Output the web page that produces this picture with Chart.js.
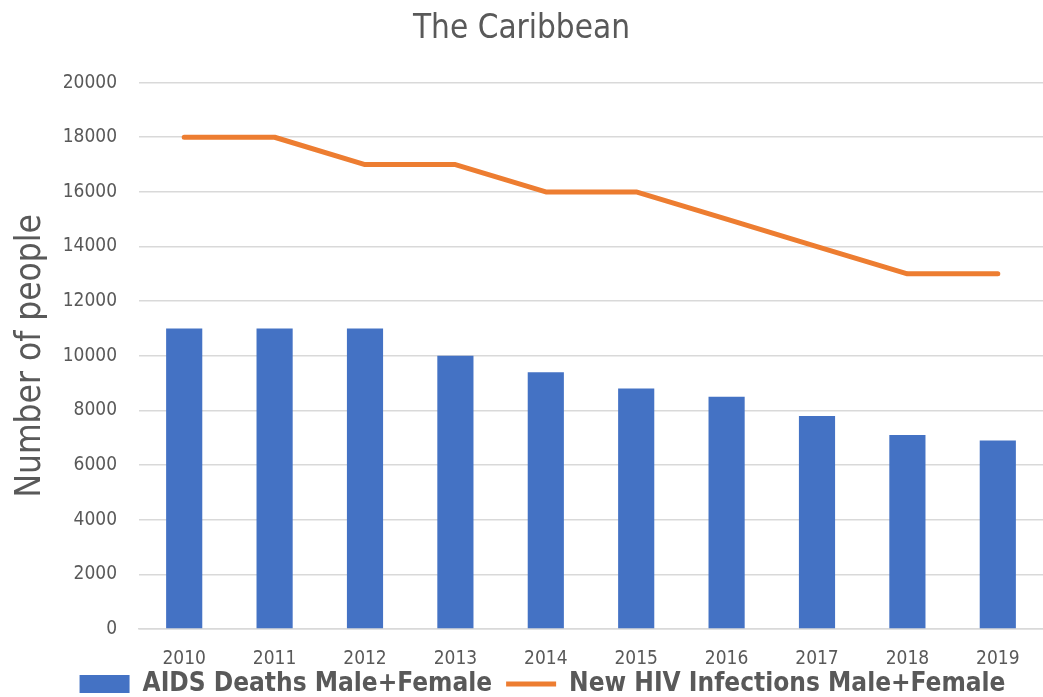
<!DOCTYPE html>
<html>
<head>
<meta charset="utf-8">
<title>The Caribbean</title>
<script src="https://cdn.jsdelivr.net/npm/chart.js@4.4.1/dist/chart.umd.min.js"></script>
<style>
  html, body { margin: 0; padding: 0; background: #fff; }
  #wrap { width: 1043px; height: 697px; position: relative; }
</style>
</head>
<body>
<div id="wrap"><canvas id="chart"></canvas></div>
<script>
// Data
const years = ['2010', '2011', '2012', '2013', '2014', '2015', '2016', '2017', '2018', '2019'];
const aidsDeaths = [11000, 11000, 11000, 10000, 9400, 8800, 8500, 7800, 7100, 6900];
const newInfections = [18000, 18000, 17000, 17000, 16000, 16000, 15000, 14000, 13000, 13000];
const yTicks = [0, 2000, 4000, 6000, 8000, 10000, 12000, 14000, 16000, 18000, 20000];

const FONT = '"DejaVu Sans Condensed", "Open Sans", sans-serif';
const GREY = '#595959';
const LEGEND_SHIFT = 21;

Chart.defaults.font.family = FONT;
Chart.defaults.color = GREY;

// the legend's padding is only wanted between the two items, not above/below them
const legendTrim = {
    id: 'legendTrim',
    afterInit(chart) {
        const lg = chart.legend;
        if (!lg) return;
        const fit = lg.fit;
        const draw = lg.draw;
        lg.fit = function () {
            fit.call(this);
            this.height -= this.options.labels.padding + 10;
        };
        lg.draw = function () {
            const p = this.options.labels.padding;
            this.top -= p;
            this.left += LEGEND_SHIFT;
            this.right += LEGEND_SHIFT;
            draw.call(this);
            this.top += p;
            this.left -= LEGEND_SHIFT;
            this.right -= LEGEND_SHIFT;
        };
    }
};

const ctx = document.getElementById('chart').getContext('2d');
new Chart(ctx, {
    type: 'bar',
    data: {
        labels: years,
        datasets: [{
            label: 'AIDS Deaths Male+Female',
            data: aidsDeaths,
            backgroundColor: '#4472c4',
            borderWidth: 0,
            barPercentage: 0.4,
            categoryPercentage: 1,
            pointStyle: 'rect'
        }, {
            type: 'line',
            label: 'New HIV Infections Male+Female',
            data: newInfections,
            borderColor: '#ed7d31',
            backgroundColor: '#ed7d31',
            borderWidth: 5,
            borderCapStyle: 'round',
            borderJoinStyle: 'round',
            pointRadius: 0,
            pointStyle: 'line',
            tension: 0
        }]
    },
    options: {
        responsive: true,
        maintainAspectRatio: false,
        animation: false,
        layout: { padding: 0 },
        plugins: {
            title: {
                display: true,
                text: 'The Caribbean',
                color: GREY,
                font: { size: 33, weight: 'normal' },
                padding: { top: 10, bottom: 33 }
            },
            legend: {
                position: 'bottom',
                labels: {
                    usePointStyle: true,
                    pointStyleWidth: 50,
                    boxHeight: 18,
                    padding: 14,
                    color: GREY,
                    font: { size: 26, weight: 'bold' }
                }
            },
            tooltip: { enabled: false }
        },
        scales: {
            x: {
                afterFit: (axis) => { axis.height = 42; },
                grid: { display: false },
                border: { color: '#d9d9d9', width: 1.5 },
                ticks: { color: GREY, font: { size: 19 }, padding: 11 }
            },
            y: {
                min: 0,
                max: 20000,
                afterBuildTicks: (axis) => { axis.ticks = yTicks.map(v => ({ value: v })); },
                afterFit: (axis) => { axis.width = 139; },
                grid: { color: '#d9d9d9', lineWidth: 1.5, drawTicks: false },
                border: { display: false },
                ticks: {
                    color: GREY,
                    font: { size: 19 },
                    padding: 22,
                    callback: (v) => String(v)
                },
                title: {
                    display: true,
                    text: 'Number of people',
                    color: GREY,
                    font: { size: 35 },
                    padding: { top: 10, bottom: 0 }
                }
            }
        }
    },
    plugins: [legendTrim]
});
</script>
</body>
</html>
